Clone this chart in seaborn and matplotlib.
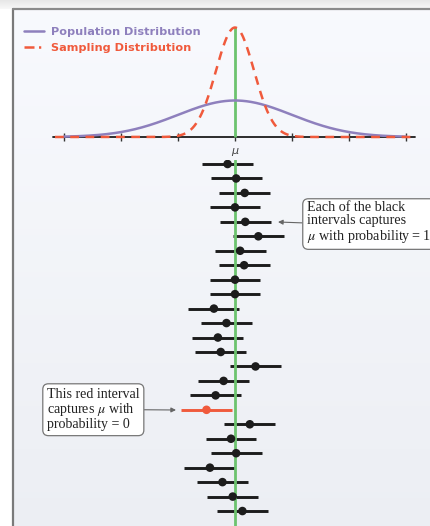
import numpy as np
import pandas as pd
import matplotlib
matplotlib.use("Agg")
import matplotlib.pyplot as plt
import seaborn as sns
from matplotlib.lines import Line2D

# population and sampling setup, in units of sigma
MU = 0.0
SIGMA = 1.0
N = 9
AXIS_TICKS = [-3, -2, -1, 0, 1, 2, 3]

# sample means of the 25 intervals, top to bottom
SAMPLE_MEANS = [-0.13, 0.02, 0.17, 0.00, 0.18, 0.41, 0.09, 0.16, 0.00, 0.00,
                -0.37, -0.15, -0.30, -0.25, 0.36, -0.20, -0.34, -0.50, 0.26,
                -0.07, 0.02, -0.44, -0.22, -0.04, 0.13]
HALF_WIDTH = 0.447

LEGEND_LABELS = ["Population Distribution", "Sampling Distribution"]
BOX_BLACK = "Each of the black\nintervals captures\n$\\mu$ with probability\u2009=\u20091"
BOX_RED = "This red interval\ncaptures $\\mu$ with\nprobability = 0"

PURPLE = "#8e80bd"
RED = "#f05a3c"
GREEN = "#6cc36e"
BLACK = "#1c1c1c"


def normal_pdf(x, mu, sd):
    return np.exp(-0.5 * ((x - mu) / sd) ** 2) / (sd * np.sqrt(2 * np.pi))


def main():
    sns.set_style("white")
    plt.rcParams["mathtext.fontset"] = "stix"

    W, H = 431, 526
    fig = plt.figure(figsize=(W / 100, H / 100), dpi=100)

    # pixel -> data helpers
    X0, XU = 235.0, 57.0          # mu position, px per sigma
    BASE, PK = 137.0, 36.5         # baseline px, px height of population peak
    R0, RS = 164.0, 14.46          # first row px, row spacing
    s = normal_pdf(0, MU, SIGMA) / PK
    px2x = lambda px: (px - X0) / XU
    py2r = lambda py: (py - R0) / RS

    # background panel with soft gradient
    ax_bg = fig.add_axes([0, 0, 1, 1])
    top_strip = np.linspace(0.90, 0.97, 20)[:, None]
    ax_bg.imshow(top_strip, cmap="gray", vmin=0, vmax=1, extent=(0, W + 20, 9, 0),
                 aspect="auto", interpolation="nearest")
    grad = np.linspace(0, 1, 100)[:, None]
    c_top = np.array([0.973, 0.980, 0.996])
    c_bot = np.array([0.925, 0.933, 0.953])
    img = (c_top + (c_bot - c_top) * grad)[:, None, :].repeat(2, axis=1)
    ax_bg.imshow(img, extent=(13, W + 20, H + 20, 9), aspect="auto", interpolation="nearest")
    ax_bg.add_patch(plt.Rectangle((-5, 9), 18, H + 20, color="white", lw=0))
    ax_bg.plot([13, 13], [9, H + 20], color="#7a7a7a", lw=1.6)
    ax_bg.plot([13, W + 20], [9, 9], color="#8a8a8a", lw=1.6)
    ax_bg.set_xlim(0, W)
    ax_bg.set_ylim(H, 0)
    ax_bg.axis("off")

    xlim = (px2x(0), px2x(W))

    # top panel: distributions
    ax_top = fig.add_axes([0, 1 - 160 / H, 1, 160 / H])
    ax_top.patch.set_alpha(0)

    x_pop = np.linspace(-3, 3, 400)
    x_samp = np.linspace(px2x(55), px2x(415), 600)
    sd_samp = SIGMA / np.sqrt(N)
    pop = pd.DataFrame({"x": x_pop, "y": normal_pdf(x_pop, MU, SIGMA)})
    samp = pd.DataFrame({"x": x_samp, "y": normal_pdf(x_samp, MU, sd_samp)})

    ax_top.plot([px2x(53), px2x(415)], [0, 0], color=BLACK, lw=1.3, zorder=1)
    ax_top.vlines(AXIS_TICKS, -4 * s, 4 * s, color="#333333", lw=1.0, zorder=1)
    ax_top.vlines(MU, 0, normal_pdf(0, MU, sd_samp), color=GREEN, lw=2.0, zorder=2)
    sns.lineplot(data=pop, x="x", y="y", color=PURPLE, lw=1.8, ax=ax_top, zorder=3)
    sns.lineplot(data=samp, x="x", y="y", color=RED, lw=1.8, ax=ax_top, zorder=4)
    ax_top.lines[-1].set_dashes((3.5, 2.6))
    ax_top.set_xlim(*xlim)
    ax_top.set_ylim(-(160 - BASE) * s, BASE * s)
    ax_top.axis("off")
    ax_top.text(0, -(151 - BASE) * s, "μ", ha="center", va="center",
                fontsize=8, style="italic", color="#444444")

    handles = [Line2D([], [], color=PURPLE, lw=1.8),
               Line2D([], [], color=RED, lw=1.8, dashes=(4, 1.8, 0.9, 3))]
    ax_top.legend(handles, LEGEND_LABELS, loc="upper left",
                  bbox_to_anchor=(24 / W, 1 - 27 / H), bbox_transform=fig.transFigure,
                  frameon=False, borderpad=0, borderaxespad=0, handlelength=1.75,
                  handletextpad=0.6, labelspacing=0.5, labelcolor=[PURPLE, RED],
                  prop={"weight": "bold", "size": 8.15})

    # bottom panel: confidence intervals
    ax_bot = fig.add_axes([0, 0, 1, (H - 160) / H])
    ax_bot.patch.set_alpha(0)
    df = pd.DataFrame({"mean": SAMPLE_MEANS})
    df["row"] = np.arange(len(df))
    df["lo"] = df["mean"] - HALF_WIDTH
    df["hi"] = df["mean"] + HALF_WIDTH
    df["status"] = np.where((df["lo"] <= MU) & (df["hi"] >= MU), "captures", "misses")
    pal = {"captures": BLACK, "misses": RED}

    ax_bot.axvline(MU, color=GREEN, lw=2.0, zorder=2)
    ax_bot.hlines(df["row"], df["lo"], df["hi"], colors=df["status"].map(pal), lw=2.1, zorder=1)
    sns.scatterplot(data=df, x="mean", y="row", hue="status", palette=pal, s=38,
                    edgecolor="none", legend=False, ax=ax_bot, zorder=3)
    ax_bot.set_xlim(*xlim)
    ax_bot.set_ylim(py2r(H), py2r(160))
    ax_bot.axis("off")

    box = dict(boxstyle="round,pad=0.3,rounding_size=0.4", fc="white", ec="#777777", lw=0.9)
    arrow = dict(arrowstyle="-|>", color="#666666", lw=0.8, shrinkA=0, shrinkB=0,
                 mutation_scale=7)
    ax_bot.annotate(BOX_BLACK, xy=(px2x(278), py2r(222)), xytext=(px2x(307), py2r(201)),
                    ha="left", va="top", bbox=box, linespacing=1.05,
                    arrowprops=dict(arrow, relpos=(0, 0.5)), annotation_clip=False,
                    family=["Liberation Serif", "DejaVu Serif"], size=10.2, color="#222222")
    ax_bot.annotate(BOX_RED, xy=(px2x(176), py2r(410)), xytext=(px2x(47), py2r(388)),
                    ha="left", va="top", bbox=box, linespacing=1.02,
                    arrowprops=dict(arrow, relpos=(1, 0.5)),
                    family="Liberation Serif", size=10.1, color="#222222")

    fig.savefig("out.png", dpi=100)


if __name__ == "__main__":
    main()
